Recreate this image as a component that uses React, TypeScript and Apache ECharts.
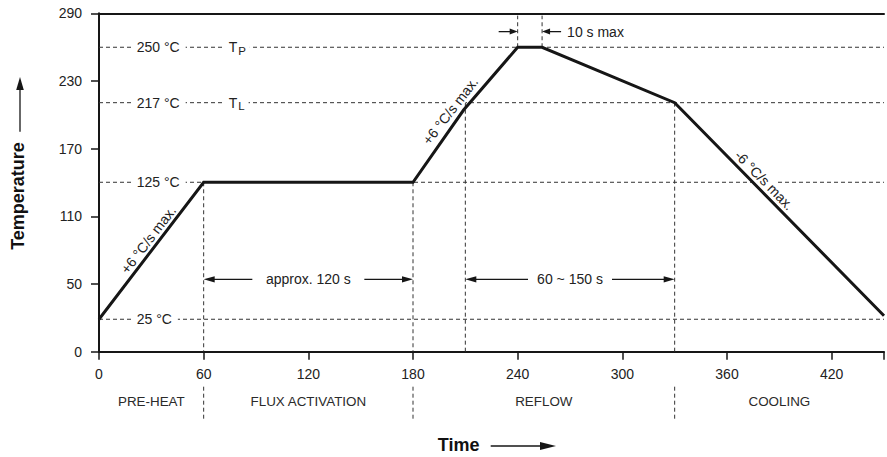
import React, { useEffect, useRef } from "react";
import * as echarts from "echarts";

// ---- data ----
const xTickValues = [0, 60, 120, 180, 240, 300, 360, 420];
const yTickLabels = ["0", "50", "110", "170", "230", "290"];
const Y_STEP = 58; // axis units between labelled (evenly spaced) ticks
const X_MAX = 450;

// reflow profile (time s, level on the drawn temperature axis)
const profileTime = [0, 60, 180, 209, 240, 254, 330, 450];
const profileLevel = [27.8, 145.2, 145.2, 207.1, 260.9, 260.9, 213.4, 30.8];

// horizontal reference lines
const refLabels = ["25 °C", "125 °C", "217 °C", "250 °C"];
const refLevels = [27.8, 145.2, 213.4, 260.9];
const refTag = ["", "", "T", "T"];
const refTagSub = ["", "", "L", "P"];

// vertical guides
const guideX = [60, 180, 210, 330, 240, 254];
const guideFrom = [145.2, 145.2, 213.4, 213.4, 260.9, 260.9];
const guideTo = [0, 0, 0, 0, 288, 288];
const guideBelowAxis = [true, true, false, true, false, false];

// phases
const phaseNames = ["PRE-HEAT", "FLUX ACTIVATION", "REFLOW", "COOLING"];
const phaseBounds = [0, 60, 180, 330, 450];

// ramp labels: segment [from point, to point]
const rampLabels = ["+6 °C/s max.", "+6 °C/s max.", "-6 °C/s max."];
const rampFromIdx = [0, 2, 6];
const rampToIdx = [1, 4, 7];

// duration spans
const spanLabels = ["approx. 120 s", "60 ~ 150 s"];
const spanFrom = [60, 210];
const spanTo = [180, 330];
const spanLevel = 62;
const peakSpanLabel = "10 s max";
const peakSpanFrom = 240;
const peakSpanTo = 254;
const peakSpanLevel = 274.3;

const FONT = "'Liberation Sans', Arial, Helvetica, sans-serif";
const TEXT = "#222";
const INK = "#161616";

export default function App() {
  const ref = useRef<HTMLDivElement>(null);

  useEffect(() => {
    document.body.style.margin = "0";
    const el = ref.current!;
    const chart = echarts.init(el, undefined, { renderer: "svg" });

    const axisLineStyle = { color: INK, width: 2 };
    chart.setOption({
      animation: false,
      backgroundColor: "#fff",
      grid: { left: 99, right: -2.5, top: 13.3, bottom: 105.3, containLabel: false },
      xAxis: [
        {
          type: "value",
          min: 0,
          max: X_MAX,
          interval: 60,
          axisLine: { show: true, lineStyle: axisLineStyle },
          axisTick: { show: true, length: 8, lineStyle: { color: INK, width: 1.5 } },
          splitLine: { show: false },
          axisLabel: {
            margin: 15,
            fontSize: 14,
            fontFamily: FONT,
            color: TEXT,
            formatter: (v: number) => (xTickValues.includes(v) ? String(v) : ""),
          },
        },
        {
          type: "value",
          position: "top",
          min: 0,
          max: X_MAX,
          interval: 60,
          axisLine: { show: true, onZero: false, lineStyle: axisLineStyle },
          axisTick: { show: false },
          axisLabel: { show: false },
          splitLine: { show: false },
        },
      ],
      yAxis: {
        type: "value",
        min: 0,
        max: Y_STEP * (yTickLabels.length - 1),
        interval: Y_STEP,
        axisLine: { show: true, lineStyle: axisLineStyle },
        axisTick: { show: true, length: 8, lineStyle: { color: INK, width: 1.5 } },
        splitLine: { show: false },
        axisLabel: {
          margin: 17,
          fontSize: 14,
          fontFamily: FONT,
          color: TEXT,
          formatter: (v: number) => yTickLabels[Math.round(v / Y_STEP)] ?? "",
        },
      },
      series: [
        {
          type: "line",
          xAxisIndex: 0,
          yAxisIndex: 0,
          z: 5,
          data: profileTime.map((t, i) => [t, profileLevel[i]]),
          showSymbol: false,
          symbol: "none",
          lineStyle: { color: INK, width: 3, join: "miter" },
        },
      ],
    });

    const px = (x: number, y: number) =>
      chart.convertToPixel({ xAxisIndex: 0, yAxisIndex: 0 }, [x, y]) as number[];
    const [ox, oy] = px(0, 0);
    const xEnd = px(X_MAX, 0)[0];

    const els: any[] = [];
    const dash = { stroke: "#333", lineWidth: 1, lineDash: [4, 3] };
    const txt = (extra: any) => ({ fontFamily: FONT, fontSize: 14, fill: TEXT, ...extra });

    const arrow = (x1: number, y1: number, x2: number, y2: number, head: number, half: number) => {
      const dx = x2 - x1, dy = y2 - y1;
      const len = Math.hypot(dx, dy);
      const ux = dx / len, uy = dy / len;
      const bx = x2 - ux * head, by = y2 - uy * head;
      els.push({
        type: "line",
        z: 1,
        shape: { x1, y1, x2: bx + ux * 2, y2: by + uy * 2 },
        style: { stroke: INK, lineWidth: 1.3 },
      });
      els.push({
        type: "polygon",
        z: 1,
        shape: { points: [[x2, y2], [bx - uy * half, by + ux * half], [bx + uy * half, by - ux * half]] },
        style: { fill: INK },
      });
    };

    // horizontal reference lines with labels
    refLevels.forEach((v, i) => {
      const y = px(0, v)[1];
      els.push({ type: "line", z: 1, z2: 0, shape: { x1: ox, y1: y, x2: xEnd, y2: y }, style: dash });
      els.push({
        type: "text",
        z: 1,
        z2: 10,
        x: ox + 33.7,
        y,
        style: txt({ text: refLabels[i], align: "left", verticalAlign: "middle", backgroundColor: "#fff", padding: [0, 6, 0, 4] }),
      });
      if (refTag[i]) {
        els.push({
          type: "text",
          z: 1,
          z2: 10,
          x: ox + 124.7,
          y,
          style: txt({ text: refTag[i], align: "left", verticalAlign: "middle", backgroundColor: "#fff", padding: [0, 0, 0, 5] }),
        });
        els.push({
          type: "text",
          z: 1,
          z2: 11,
          x: ox + 139.2,
          y: y + 3.6,
          style: txt({ text: refTagSub[i], fontSize: 11.5, align: "left", verticalAlign: "middle", backgroundColor: "#fff", padding: [0, 4, 0, 0] }),
        });
      }
    });

    // vertical guides
    guideX.forEach((gx, i) => {
      const [x, y1] = px(gx, guideFrom[i]);
      const y2 = px(gx, guideTo[i])[1];
      els.push({ type: "line", z: 1, z2: 0, shape: { x1: x, y1, x2: x, y2 }, style: dash });
      if (guideBelowAxis[i]) {
        els.push({ type: "line", z: 1, z2: 0, shape: { x1: x, y1: oy + 35, x2: x, y2: oy + 67 }, style: dash });
      }
    });

    // ramp labels
    const rampShift = [[-3, -11], [-15, -4], [-15, -29]];
    rampLabels.forEach((label, i) => {
      const a = px(profileTime[rampFromIdx[i]], profileLevel[rampFromIdx[i]]);
      const b = px(profileTime[rampToIdx[i]], profileLevel[rampToIdx[i]]);
      const rot = Math.atan2(a[1] - b[1], b[0] - a[0]);
      els.push({
        type: "text",
        z: 1,
        z2: 10,
        x: (a[0] + b[0]) / 2 + rampShift[i][0],
        y: (a[1] + b[1]) / 2 + rampShift[i][1],
        rotation: rot,
        style: txt({ text: label, align: "center", verticalAlign: "middle", backgroundColor: "#fff", padding: [0, 2] }),
      });
    });

    // duration spans
    const spanHalf = [56, 42];
    spanLabels.forEach((label, i) => {
      const [xa, y] = px(spanFrom[i], spanLevel);
      const xb = px(spanTo[i], spanLevel)[0];
      const cx = (xa + xb) / 2;
      els.push({
        type: "text",
        z: 1,
        z2: 10,
        x: cx,
        y,
        style: txt({ text: label, align: "center", verticalAlign: "middle" }),
      });
      arrow(cx - spanHalf[i], y, xa, y, 11, 3.2);
      arrow(cx + spanHalf[i], y, xb, y, 11, 3.2);
    });

    // peak duration
    {
      const [xa, y] = px(peakSpanFrom, peakSpanLevel);
      const xb = px(peakSpanTo, peakSpanLevel)[0];
      arrow(xa - 19, y, xa, y, 8, 3);
      arrow(xb + 19, y, xb, y, 8, 3);
      els.push({
        type: "text",
        z: 1,
        x: xb + 25,
        y,
        style: txt({ text: peakSpanLabel, align: "left", verticalAlign: "middle" }),
      });
    }

    // phase names
    phaseNames.forEach((name, i) => {
      const x = px((phaseBounds[i] + phaseBounds[i + 1]) / 2, 0)[0];
      els.push({
        type: "text",
        z: 1,
        x,
        y: oy + 50,
        style: txt({ text: name, fontSize: 13.4, fill: "#2a2a2a", align: "center", verticalAlign: "middle" }),
      });
    });

    // axis titles
    els.push({
      type: "text",
      z: 1,
      x: ox - 81,
      y: 196,
      rotation: Math.PI / 2,
      style: txt({ text: "Temperature", fontSize: 18, fontWeight: "bold", fill: "#111", align: "center", verticalAlign: "middle" }),
    });
    arrow(ox - 79, 131.7, ox - 79, 77, 13, 3.8);
    els.push({
      type: "text",
      z: 1,
      x: 458.7,
      y: oy + 93.3,
      style: txt({ text: "Time", fontSize: 18, fontWeight: "bold", fill: "#111", align: "center", verticalAlign: "middle" }),
    });
    arrow(490.7, oy + 94.3, 556, oy + 94.3, 16, 4);

    chart.setOption({ graphic: { elements: els } });

    return () => chart.dispose();
  }, []);

  return <div ref={ref} style={{ width: 887, height: 457 }} />;
}
